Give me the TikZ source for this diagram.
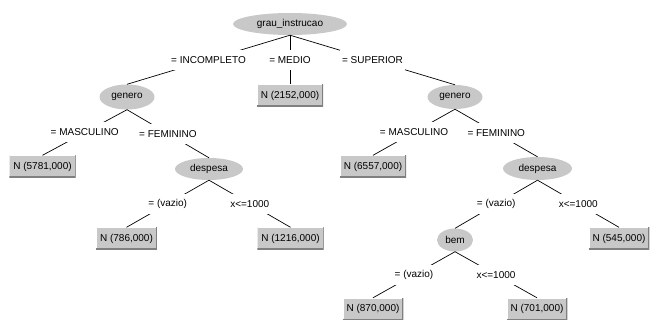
\documentclass[tikz,border=0pt]{standalone}
\usepackage{fontspec}
\setmainfont{Liberation Sans}
\usetikzlibrary{shapes.geometric}
\definecolor{nodegray}{RGB}{200,200,200}
\definecolor{dkgray}{RGB}{128,128,128}
\begin{document}
\begin{tikzpicture}[x=1pt,y=-1pt,
  font=\fontsize{10}{12}\selectfont,
  splitnode/.style={ellipse, fill=nodegray, inner sep=0pt},
  leafbox/.style={rectangle, fill=nodegray, minimum height=22pt, inner xsep=4pt, inner ysep=0pt,
    path picture={
      \draw[white, line width=2pt] (path picture bounding box.south west) |- (path picture bounding box.north east);
      \draw[dkgray, line width=2pt] (path picture bounding box.south west) -| (path picture bounding box.north east);
    }},
  lbl/.style={fill=white, inner xsep=2pt, inner ysep=0pt, minimum height=20pt},
  edge/.style={draw=black, line width=0.7pt}]
\fill[white] (0,0) rectangle (650,320);
\useasboundingbox (0,0) rectangle (650,320);

\node[splitnode, minimum width=114pt, minimum height=22pt] (root) at (290,24) {grau\_instrucao};
\node[leafbox] (bmed) at (290,95.5) {N (2152,000)};
\node[splitnode, minimum width=55pt, minimum height=25pt] (g1) at (127,97) {genero};
\node[splitnode, minimum width=55pt, minimum height=24pt] (g2) at (455,97) {genero};
\node[leafbox] (b5781) at (42.5,166.5) {N (5781,000)};
\node[splitnode, minimum width=68pt, minimum height=22pt] (d1) at (209,169) {despesa};
\node[leafbox] (b786) at (126.5,238.5) {N (786,000)};
\node[leafbox] (b1216) at (290.5,238.5) {N (1216,000)};
\node[leafbox] (b6557) at (373,166.5) {N (6557,000)};
\node[splitnode, minimum width=69pt, minimum height=23pt] (d2) at (537.5,168.5) {despesa};
\node[splitnode, minimum width=36pt, minimum height=23pt] (bem) at (455,240) {bem};
\node[leafbox] (b545) at (619,238.5) {N (545,000)};
\node[leafbox] (b870) at (373,309) {N (870,000)};
\node[leafbox] (b701) at (537,309) {N (701,000)};

\draw[edge] (root.south) -- node[lbl]{= INCOMPLETO} (g1.north);
\draw[edge] (root.south) -- node[lbl]{= MEDIO} (bmed.north);
\draw[edge] (root.south) -- node[lbl]{= SUPERIOR} (g2.north);

\draw[edge] (g1.south) -- node[lbl]{= MASCULINO} (b5781.north);
\draw[edge] (g1.south) -- node[lbl]{= FEMININO} (d1.north);
\draw[edge] (d1.south) -- node[lbl]{= (vazio)} (b786.north);
\draw[edge] (d1.south) -- node[lbl]{x<=1000} (b1216.north);

\draw[edge] (g2.south) -- node[lbl]{= MASCULINO} (b6557.north);
\draw[edge] (g2.south) -- node[lbl]{= FEMININO} (d2.north);
\draw[edge] (d2.south) -- node[lbl]{= (vazio)} (bem.north);
\draw[edge] (d2.south) -- node[lbl]{x<=1000} (b545.north);
\draw[edge] (bem.south) -- node[lbl]{= (vazio)} (b870.north);
\draw[edge] (bem.south) -- node[lbl]{x<=1000} (b701.north);
\end{tikzpicture}
\end{document}
